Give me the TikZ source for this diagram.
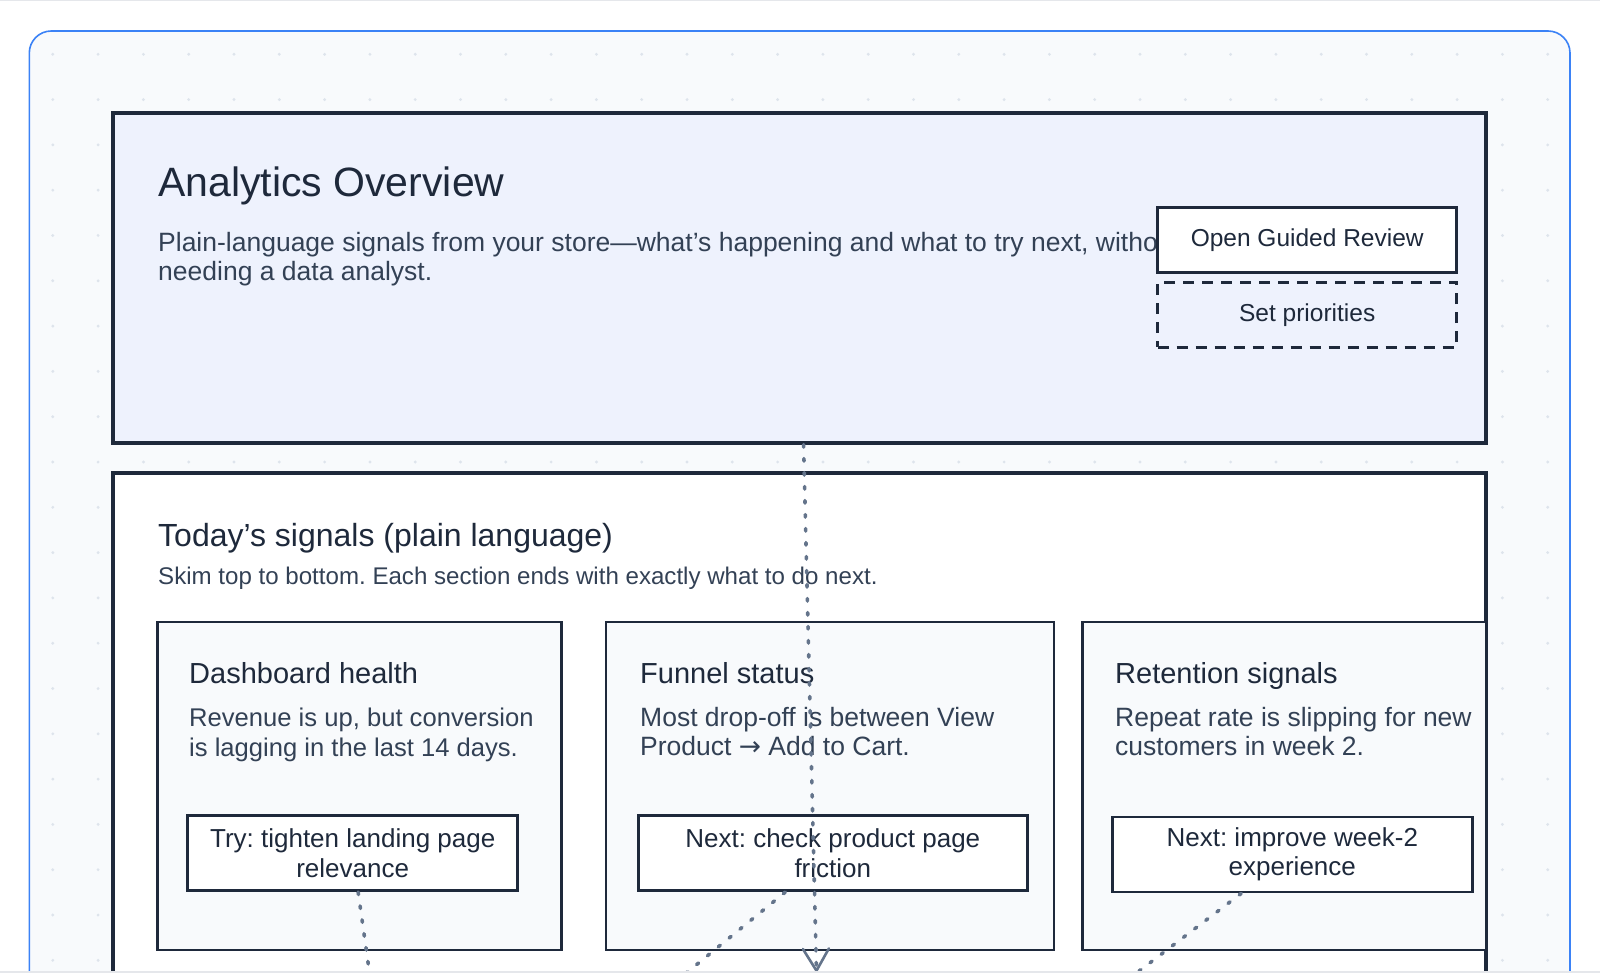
\documentclass[tikz,border=0pt]{standalone}
\usepackage{fontspec}
\setmainfont{Liberation Sans}
\newfontfamily\arrowfont{DejaVu Sans}
\usepackage{tikz}
\usetikzlibrary{arrows.meta,positioning,calc}
\usepackage{xcolor}
\frenchspacing
\definecolor{ink}{RGB}{30,41,59}
\definecolor{bodyink}{RGB}{51,65,85}
\definecolor{linkgray}{RGB}{100,116,139}
\definecolor{frameblue}{RGB}{59,130,246}
\definecolor{canvasbg}{RGB}{248,250,252}
\definecolor{dotgray}{RGB}{222,228,236}
\definecolor{heroblue}{RGB}{238,242,253}
\definecolor{edgegray}{RGB}{229,231,235}

\tikzset{
  panel/.style={draw=ink, line width=3.2pt, inner sep=0pt, minimum width=1373pt},
  card/.style={draw=ink, line width=2.8pt, fill=canvasbg, inner sep=0pt, minimum height=328pt},
  actbox/.style={draw=ink, line width=2.8pt, fill=white, inner sep=0pt, minimum height=75pt,
    align=center, text=ink, font=\fontsize{26}{29.5}\selectfont},
  btnbox/.style={draw=ink, line width=2.8pt, inner sep=0pt, minimum width=299pt, minimum height=65pt,
    text=ink, font=\fontsize{24.5}{28}\selectfont},
  herotitle/.style={anchor=base west, inner sep=0pt, text=ink, font=\fontsize{41}{48}\selectfont},
  sectitle/.style={anchor=base west, inner sep=0pt, text=ink, font=\fontsize{32}{38}\selectfont},
  cardtitle/.style={anchor=base west, inner sep=0pt, text=ink, font=\fontsize{29}{34}\selectfont},
  blurb/.style={anchor=north west, inner sep=0pt, align=left, text=bodyink, font=\fontsize{26.5}{29.5}\selectfont},
  hint/.style={anchor=base west, inner sep=0pt, text=bodyink, font=\fontsize{24.1}{30}\selectfont},
  link/.style={linkgray, line width=3.6pt, line cap=round, dash pattern=on 2.5pt off 11.5pt}
}

\begin{document}
\begin{tikzpicture}[x=1pt, y=-1pt]
    \useasboundingbox (0,0) rectangle (1600,973);
    \clip (0,0) rectangle (1600,973);
    \fill[white] (0,0) rectangle (1600,973);

    % canvas frame with dot grid
    \draw[frameblue, line width=1.6pt, fill=canvasbg, rounded corners=22pt] (29.3,31) rectangle (1570,1300);
    \foreach \i in {0,...,33}
        \foreach \j in {0,...,20}
            \fill[dotgray] (52.8+45.3*\i, 54.3+45.3*\j) circle (1.6pt);

    % header panel
    \node[panel, fill=heroblue, minimum height=330pt] (overview) at (799.5,278) {};
    \node[herotitle] (heroTitle) at (158,197) {Analytics Overview};
    \node[blurb] (heroText) at (158,232) {Plain-language signals from your store—what’s happening and what to try next, without\\needing a data analyst.};
    \node[btnbox, fill=white] (guided) at (1307.2,239.8) {Open Guided Review};
    \node[btnbox, dash pattern=on 11pt off 8pt] (priorities) at (1307.2,314.7) {Set priorities};

    % signals panel
    \node[panel, fill=white, minimum height=727pt] (signals) at (799.5,836.5) {};
    \node[sectitle] (sigTitle) at (158,546) {Today’s signals (plain language)};
    \node[hint] (sigHint) at (158,584) {Skim top to bottom. Each section ends with exactly what to do next.};

    % cards
    \node[card, minimum width=404pt] (cardA) at (359.5,785.9) {};
    \node[card, minimum width=448pt] (cardB) at (829.9,785.9) {};
    \node[card, minimum width=403.5pt] (cardC) at (1284.3,785.9) {};

    \node[cardtitle] (titleA) at (189,683) {Dashboard health};
    \node[cardtitle] (titleB) at (640,683) {Funnel status};
    \node[cardtitle] (titleC) at (1115,683) {Retention signals};

    \node[blurb, font=\fontsize{25.6}{29.5}\selectfont] (textA) at (189,708) {Revenue is up, but conversion\\is lagging in the last 14 days.};
    \node[blurb] (textB) at (640,707) {Most drop-off is between View\\Product {\arrowfont →} Add to Cart.};
    \node[blurb] (textC) at (1115,707) {Repeat rate is slipping for new\\customers in week 2.};

    \node[actbox, minimum width=330pt] (tryA) at (352.7,853.2) {Try: tighten landing page\\relevance};
    \node[actbox, minimum width=389pt] (tryB) at (832.8,853.2) {Next: check product page\\friction};
    \node[actbox, minimum width=360pt] (tryC) at (1292.3,854.5) {Next: improve week-2\\experience};

    % connectors to the next row
    \coordinate (sinkA) at (373.3,1000);
    \coordinate (sinkB) at (653.3,1000);
    \coordinate (sinkC) at (1101,1000);
    \coordinate (sinkMain) at (816.5,972);
    \draw[link] (tryA) -- (sinkA);
    \draw[link] (tryB) -- (sinkB);
    \draw[link] (tryC) -- (sinkC);
    \draw[link, -{Straight Barb[length=22pt, width=26pt, round, line width=2.6pt]}] (overview) -- (sinkMain);

    \draw[edgegray, line width=1pt] (0,0.5) -- (1600,0.5);
    \draw[edgegray, line width=1.5pt] (0,972.2) -- (1600,972.2);
\end{tikzpicture}
\end{document}
